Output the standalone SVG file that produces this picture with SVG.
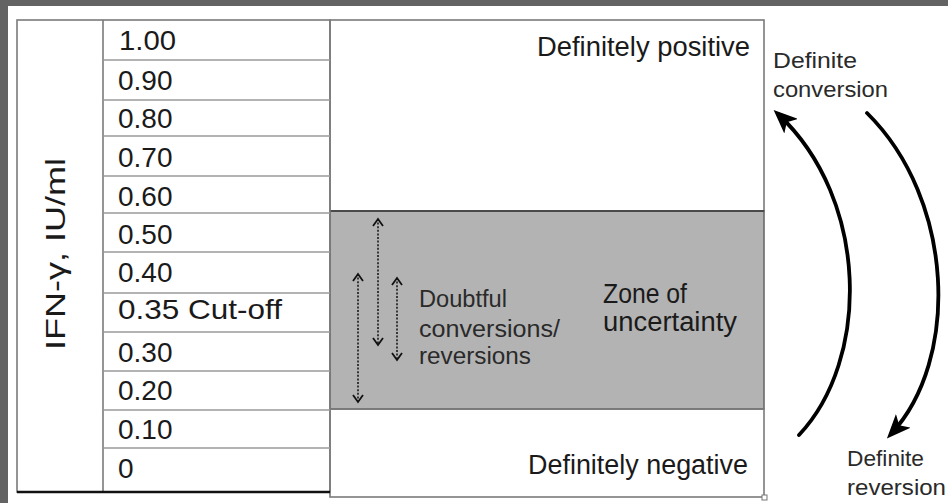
<svg xmlns="http://www.w3.org/2000/svg" width="948" height="503" viewBox="0 0 948 503">
<style>
text{font-family:"Liberation Sans",Arial,sans-serif;fill:#1a1a1a}
.v{font-size:28px}
.z{font-size:27px}
.s{font-size:23px;fill:#2a2a2a}
.r{font-size:22px;fill:#2a2a2a}
.rowline{stroke:#9a9a9a;stroke-width:1.6;fill:none}
.border{stroke:#7a7a7a;stroke-width:1.6;fill:none}
.dot{stroke:#111;stroke-width:1.5;stroke-dasharray:2 1.6;fill:none;marker-start:url(#chev);marker-end:url(#chev)}
.curve{stroke:#000;stroke-width:3.8;fill:none;stroke-linecap:round;marker-end:url(#head)}
</style>
<defs>
<marker id="chev" viewBox="-9 -6 11 12" refX="0" refY="0" markerWidth="11" markerHeight="12" markerUnits="userSpaceOnUse" orient="auto-start-reverse">
<path d="M-7,-5 L0,0 L-7,5" fill="none" stroke="#111" stroke-width="1.8"/>
</marker>
<marker id="head" viewBox="0 0 24 20" refX="18" refY="10" markerWidth="24" markerHeight="20" markerUnits="userSpaceOnUse" orient="auto">
<path d="M0,0 L24,10 L0,20 L6,10 z" fill="#000"/>
</marker>
</defs>
<rect x="0" y="0" width="948" height="503" fill="#ffffff"/>
<g id="frame">
<rect x="0" y="0" width="948" height="6" fill="#636363"/>
<rect x="0" y="0" width="8" height="503" fill="#636363"/>
</g>
<g id="zones">
<g id="positive">
<rect x="330" y="20" width="434" height="191" fill="#ffffff" class="border"/>
<text class="z" x="537" y="56" textLength="213" lengthAdjust="spacingAndGlyphs">Definitely positive</text>
</g>
<g id="uncertainty">
<rect x="330" y="211" width="434" height="198" fill="#b3b3b3" stroke="#6a6a6a" stroke-width="1.6"/>
<line x1="330" y1="211" x2="764" y2="211" stroke="#4a4a4a" stroke-width="2"/>
<text class="z" x="603" y="303" textLength="84" lengthAdjust="spacingAndGlyphs">Zone of</text>
<text class="z" x="603" y="331" textLength="134" lengthAdjust="spacingAndGlyphs">uncertainty</text>
<text class="s" x="419" y="307" textLength="88" lengthAdjust="spacingAndGlyphs">Doubtful</text>
<text class="s" x="419" y="337" textLength="141" lengthAdjust="spacingAndGlyphs">conversions/</text>
<text class="s" x="419" y="364" textLength="112" lengthAdjust="spacingAndGlyphs">reversions</text>
</g>
<g id="negative">
<rect x="330" y="409" width="434" height="88" fill="#ffffff" class="border"/>
<text class="z" x="528" y="474" textLength="220" lengthAdjust="spacingAndGlyphs">Definitely negative</text>
<rect x="762" y="495" width="5" height="5" fill="#fff" stroke="#777" stroke-width="1"/>
</g>
</g>
<g id="table">
<rect x="17" y="20" width="313" height="472" fill="#ffffff" class="border"/>
<line x1="103" y1="20" x2="103" y2="492" class="border"/>
<line x1="103" y1="60" x2="330" y2="60" class="rowline"/>
<line x1="103" y1="100" x2="330" y2="100" class="rowline"/>
<line x1="103" y1="136" x2="330" y2="136" class="rowline"/>
<line x1="103" y1="176" x2="330" y2="176" class="rowline"/>
<line x1="103" y1="213" x2="330" y2="213" class="rowline"/>
<line x1="103" y1="252" x2="330" y2="252" class="rowline"/>
<line x1="103" y1="293" x2="330" y2="293" class="rowline"/>
<line x1="103" y1="332" x2="330" y2="332" class="rowline"/>
<line x1="103" y1="371" x2="330" y2="371" class="rowline"/>
<line x1="103" y1="410" x2="330" y2="410" class="rowline"/>
<line x1="103" y1="448" x2="330" y2="448" class="rowline"/>
<line x1="17" y1="492" x2="330" y2="492" stroke="#111" stroke-width="2.4"/>
<text class="v" x="119" y="50" textLength="57" lengthAdjust="spacingAndGlyphs">1.00</text>
<text class="v" x="118" y="90">0.90</text>
<text class="v" x="118" y="128">0.80</text>
<text class="v" x="118" y="167">0.70</text>
<text class="v" x="118" y="206">0.60</text>
<text class="v" x="118" y="244">0.50</text>
<text class="v" x="118" y="282">0.40</text>
<text class="v" x="118" y="319" textLength="164" lengthAdjust="spacingAndGlyphs">0.35 Cut-off</text>
<text class="v" x="118" y="362">0.30</text>
<text class="v" x="118" y="400">0.20</text>
<text class="v" x="118" y="439">0.10</text>
<text class="v" x="118" y="478">0</text>
<text class="v" transform="translate(65,254) rotate(-90)" x="0" y="0" text-anchor="middle" textLength="192" lengthAdjust="spacingAndGlyphs">IFN-γ, IU/ml</text>
</g>
<g id="side-labels">
<g id="conversion-label">
<text class="r" x="773" y="68" textLength="84" lengthAdjust="spacingAndGlyphs">Definite</text>
<text class="r" x="773" y="97" textLength="115" lengthAdjust="spacingAndGlyphs">conversion</text>
</g>
<g id="reversion-label">
<text class="r" x="847" y="466" textLength="77" lengthAdjust="spacingAndGlyphs">Definite</text>
<text class="r" x="847" y="495" textLength="99" lengthAdjust="spacingAndGlyphs">reversion</text>
</g>
</g>
<g id="connectors">
<line class="dot" x1="378" y1="219" x2="378" y2="345"/>
<line class="dot" x1="358" y1="274" x2="358" y2="402"/>
<line class="dot" x1="397" y1="278" x2="397" y2="360"/>
<path class="curve" d="M799,435 C870,360 870,200 778,114"/>
<path class="curve" d="M867,113 C955,200 960,360 891,434"/>
</g>
</svg>
